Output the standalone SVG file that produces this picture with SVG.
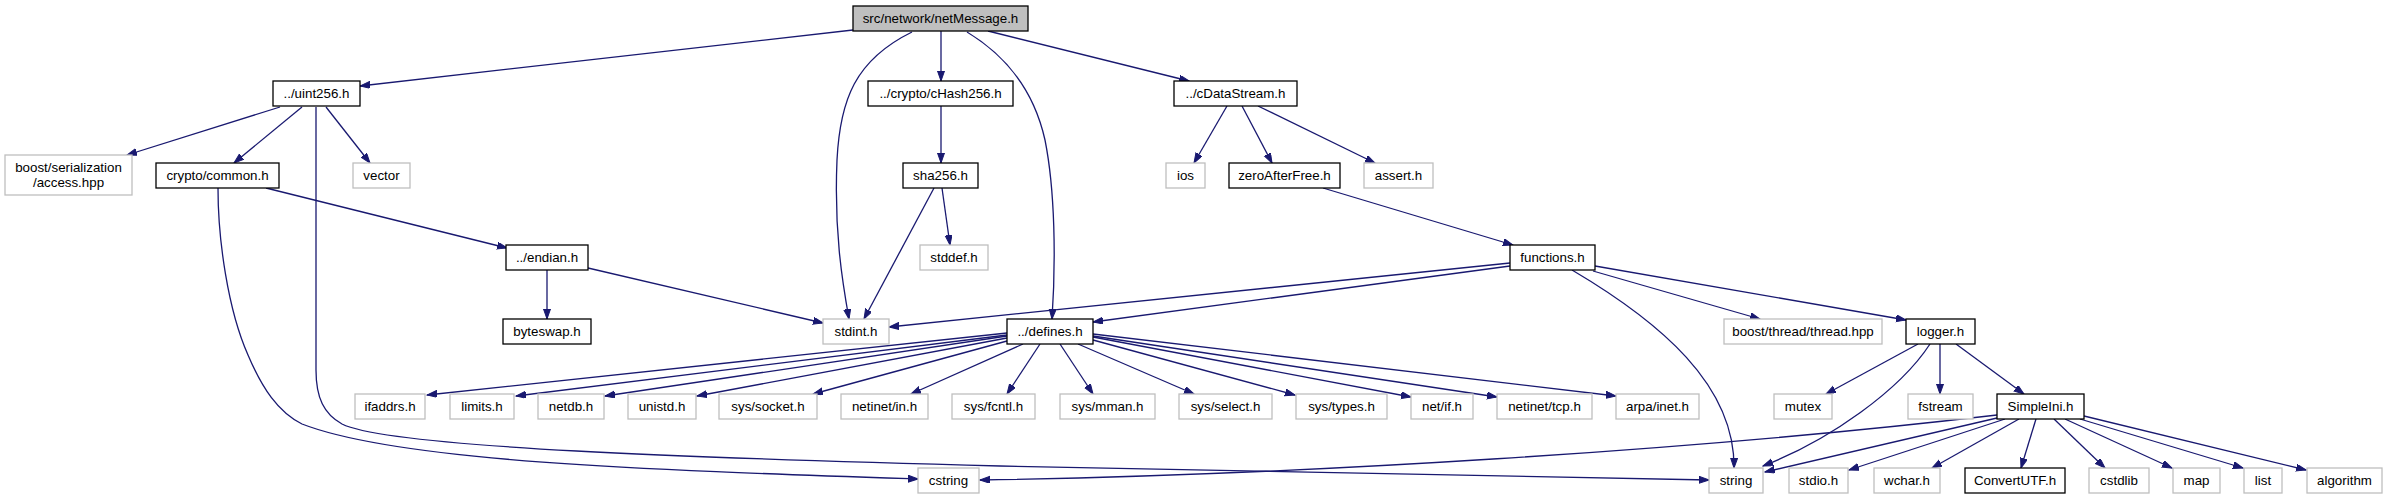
<svg xmlns="http://www.w3.org/2000/svg" width="2387" height="500" viewBox="0 0 2387 500">
<style>
rect{stroke-width:1.3}
.b rect{fill:#fff;stroke:#000}
.g rect{fill:#fff;stroke:#bfbfbf}
.r rect{fill:#bfbfbf;stroke:#000}
text{font-family:"Liberation Sans",Arial,sans-serif;font-size:13.33px;fill:#000;text-anchor:middle}
#edges path{fill:none;stroke:#191970;stroke-width:1.3;marker-end:url(#ah)}
</style>
<defs>
<marker id="ah" markerUnits="userSpaceOnUse" markerWidth="11" markerHeight="8" refX="10" refY="3.5" orient="auto" viewBox="0 0 11 8">
<path d="M0,0 L10,3.5 L0,7 z" fill="#191970" stroke="#191970" stroke-width="1"/>
</marker>
</defs>
<rect width="2387" height="500" fill="#fff"/>
<g id="edges">
<path d="M853,30 L360,86"/>
<path d="M912,32 C855,60 840,100 837,160 C834,230 842,280 849,319"/>
<path d="M941,31 L941,81"/>
<path d="M967,32 C1010,58 1035,95 1045,140 C1055,190 1056,260 1052,319"/>
<path d="M988,31 L1189,81"/>
<path d="M280,107 L127,155"/>
<path d="M302,107 L234,163"/>
<path d="M316,107 L316,370 C316,398 324,414 342,424 C390,448 700,458 1000,466 C1300,474 1600,478 1709,480"/>
<path d="M326,107 L370,163"/>
<path d="M218,188 C218,240 228,310 248,355 C262,388 278,412 302,424 C400,462 650,470 918,479"/>
<path d="M266,188 L507,248"/>
<path d="M941,106 L941,163"/>
<path d="M934,188 L864,319"/>
<path d="M942,188 L950,245"/>
<path d="M1227,106 L1194,163"/>
<path d="M1242,106 L1272,163"/>
<path d="M1258,106 L1375,163"/>
<path d="M1323,188 L1513,245"/>
<path d="M547,270 L547,319"/>
<path d="M588,268 L823,323"/>
<path d="M1510,263 L889,327"/>
<path d="M1510,266 L1093,322"/>
<path d="M1572,270 C1660,322 1735,385 1734,468"/>
<path d="M1593,271 L1760,319"/>
<path d="M1595,266 L1906,320"/>
<path d="M1007,333 L427,395"/>
<path d="M1007,335 L516,396"/>
<path d="M1007,336 L605,396"/>
<path d="M1007,338 L697,396"/>
<path d="M1007,341 L813,394"/>
<path d="M1023,344 L911,394"/>
<path d="M1040,344 L1007,394"/>
<path d="M1060,344 L1093,394"/>
<path d="M1078,344 L1194,394"/>
<path d="M1093,340 L1295,395"/>
<path d="M1093,337 L1411,397"/>
<path d="M1093,336 L1497,397"/>
<path d="M1093,334 L1616,396"/>
<path d="M1918,344 L1826,394"/>
<path d="M1930,344 C1900,390 1830,440 1763,466"/>
<path d="M1940,344 L1940,394"/>
<path d="M1956,344 L2024,394"/>
<path d="M1997,415 C1700,450 1300,475 980,480"/>
<path d="M1997,418 L1765,472"/>
<path d="M2005,419 L1849,470"/>
<path d="M2019,419 L1932,468"/>
<path d="M2036,419 L2021,468"/>
<path d="M2054,419 L2105,468"/>
<path d="M2065,419 L2172,468"/>
<path d="M2080,419 L2243,468"/>
<path d="M2084,416 L2306,470"/>
</g>
<g id="n_netMessage" class="r"><rect x="853" y="6" width="175" height="25"/><text x="940.5" y="23">src/network/netMessage.h</text></g>
<g id="n_uint256" class="b"><rect x="273" y="81" width="87" height="25"/><text x="316.5" y="98">../uint256.h</text></g>
<g id="n_cHash256" class="b"><rect x="868" y="81" width="145" height="25"/><text x="940.5" y="98">../crypto/cHash256.h</text></g>
<g id="n_cDataStream" class="b"><rect x="1174" y="81" width="123" height="25"/><text x="1235.5" y="98">../cDataStream.h</text></g>
<g id="n_access" class="g"><rect x="5" y="155" width="127" height="40"/><text x="68.5" y="172">boost/serialization</text><text x="68.5" y="187">/access.hpp</text></g>
<g id="n_common" class="b"><rect x="156" y="163" width="123" height="25"/><text x="217.5" y="180">crypto/common.h</text></g>
<g id="n_vector" class="g"><rect x="353" y="163" width="57" height="25"/><text x="381.5" y="180">vector</text></g>
<g id="n_sha256" class="b"><rect x="903" y="163" width="75" height="25"/><text x="940.5" y="180">sha256.h</text></g>
<g id="n_ios" class="g"><rect x="1166" y="163" width="39" height="25"/><text x="1185.5" y="180">ios</text></g>
<g id="n_zeroAfterFree" class="b"><rect x="1229" y="163" width="111" height="25"/><text x="1284.5" y="180">zeroAfterFree.h</text></g>
<g id="n_assert" class="g"><rect x="1364" y="163" width="69" height="25"/><text x="1398.5" y="180">assert.h</text></g>
<g id="n_endian" class="b"><rect x="506" y="245" width="82" height="25"/><text x="547" y="262">../endian.h</text></g>
<g id="n_stddef" class="g"><rect x="920" y="245" width="68" height="25"/><text x="954" y="262">stddef.h</text></g>
<g id="n_functions" class="b"><rect x="1510" y="245" width="85" height="25"/><text x="1552.5" y="262">functions.h</text></g>
<g id="n_byteswap" class="b"><rect x="503" y="319" width="88" height="25"/><text x="547" y="336">byteswap.h</text></g>
<g id="n_stdint" class="g"><rect x="823" y="319" width="66" height="25"/><text x="856" y="336">stdint.h</text></g>
<g id="n_defines" class="b"><rect x="1007" y="319" width="86" height="25"/><text x="1050" y="336">../defines.h</text></g>
<g id="n_thread" class="g"><rect x="1724" y="319" width="158" height="25"/><text x="1803" y="336">boost/thread/thread.hpp</text></g>
<g id="n_logger" class="b"><rect x="1906" y="319" width="69" height="25"/><text x="1940.5" y="336">logger.h</text></g>
<g id="n_ifaddrs" class="g"><rect x="355" y="394" width="70" height="25"/><text x="390" y="411">ifaddrs.h</text></g>
<g id="n_limits" class="g"><rect x="450" y="394" width="64" height="25"/><text x="482" y="411">limits.h</text></g>
<g id="n_netdb" class="g"><rect x="538" y="394" width="66" height="25"/><text x="571" y="411">netdb.h</text></g>
<g id="n_unistd" class="g"><rect x="628" y="394" width="68" height="25"/><text x="662" y="411">unistd.h</text></g>
<g id="n_socket" class="g"><rect x="719" y="394" width="98" height="25"/><text x="768" y="411">sys/socket.h</text></g>
<g id="n_netinet_in" class="g"><rect x="841" y="394" width="87" height="25"/><text x="884.5" y="411">netinet/in.h</text></g>
<g id="n_fcntl" class="g"><rect x="952" y="394" width="83" height="25"/><text x="993.5" y="411">sys/fcntl.h</text></g>
<g id="n_mman" class="g"><rect x="1060" y="394" width="95" height="25"/><text x="1107.5" y="411">sys/mman.h</text></g>
<g id="n_select" class="g"><rect x="1179" y="394" width="93" height="25"/><text x="1225.5" y="411">sys/select.h</text></g>
<g id="n_types" class="g"><rect x="1296" y="394" width="91" height="25"/><text x="1341.5" y="411">sys/types.h</text></g>
<g id="n_netif" class="g"><rect x="1411" y="394" width="62" height="25"/><text x="1442" y="411">net/if.h</text></g>
<g id="n_tcp" class="g"><rect x="1497" y="394" width="95" height="25"/><text x="1544.5" y="411">netinet/tcp.h</text></g>
<g id="n_inet" class="g"><rect x="1616" y="394" width="83" height="25"/><text x="1657.5" y="411">arpa/inet.h</text></g>
<g id="n_mutex" class="g"><rect x="1774" y="394" width="58" height="25"/><text x="1803" y="411">mutex</text></g>
<g id="n_fstream" class="g"><rect x="1908" y="394" width="65" height="25"/><text x="1940.5" y="411">fstream</text></g>
<g id="n_SimpleIni" class="b"><rect x="1997" y="394" width="87" height="25"/><text x="2040.5" y="411">SimpleIni.h</text></g>
<g id="n_cstring" class="g"><rect x="918" y="468" width="61" height="25"/><text x="948.5" y="485">cstring</text></g>
<g id="n_string" class="g"><rect x="1709" y="468" width="54" height="25"/><text x="1736" y="485">string</text></g>
<g id="n_stdio" class="g"><rect x="1789" y="468" width="59" height="25"/><text x="1818.5" y="485">stdio.h</text></g>
<g id="n_wchar" class="g"><rect x="1874" y="468" width="66" height="25"/><text x="1907" y="485">wchar.h</text></g>
<g id="n_ConvertUTF" class="b"><rect x="1965" y="468" width="100" height="25"/><text x="2015" y="485">ConvertUTF.h</text></g>
<g id="n_cstdlib" class="g"><rect x="2089" y="468" width="60" height="25"/><text x="2119" y="485">cstdlib</text></g>
<g id="n_map" class="g"><rect x="2173" y="468" width="47" height="25"/><text x="2196.5" y="485">map</text></g>
<g id="n_list" class="g"><rect x="2244" y="468" width="38" height="25"/><text x="2263" y="485">list</text></g>
<g id="n_algorithm" class="g"><rect x="2307" y="468" width="75" height="25"/><text x="2344.5" y="485">algorithm</text></g>
</svg>
